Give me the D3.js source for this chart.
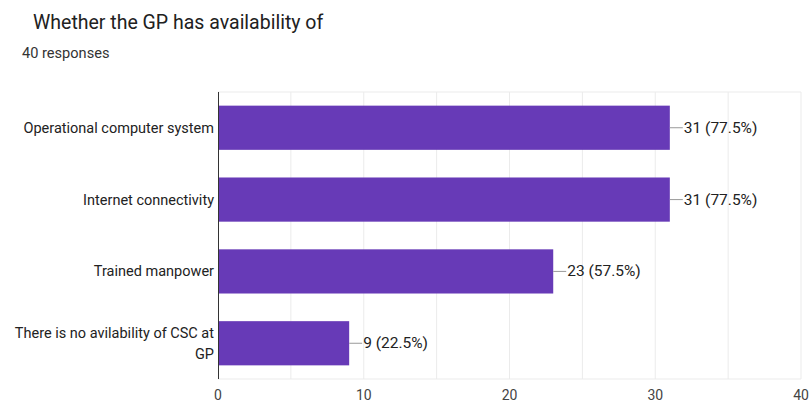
<!DOCTYPE html>
<html><head><meta charset="utf-8">
<script src="https://cdn.jsdelivr.net/npm/d3@7"></script>
<style>body{margin:0;background:#fff;font-family:Roboto,Arial,sans-serif}</style>
</head><body><svg id="c" width="809" height="405"></svg>
<script>
const categories = ["Operational computer system","Internet connectivity","Trained manpower","There is no avilability of CSC at GP"];
const catLines = [["Operational computer system"],["Internet connectivity"],["Trained manpower"],["There is no avilability of CSC at","GP"]];
const values = [31,31,23,9];
const percents = ["77.5%","77.5%","57.5%","22.5%"];
const xTicks = [0,10,20,30,40];
const gridTicks = [5,10,15,20,25,30,35,40];

const svg = d3.select("#c");
const m = {l:218,r:801,t:92,b:379};
const x = d3.scaleLinear().domain([0,40]).range([m.l,m.r]);
const y = d3.scaleBand().domain(categories).range([m.t,m.b]).paddingInner(0.385).paddingOuter(0.19);

svg.append("text").attr("x",33).attr("y",29).attr("font-size",19.5).attr("fill","#212121").text("Whether the GP has availability of");
svg.append("text").attr("x",22).attr("y",58).attr("font-size",14.6).attr("fill","#333").text("40 responses");

svg.selectAll(".g").data(gridTicks).join("line").attr("x1",d=>x(d)).attr("x2",d=>x(d)).attr("y1",m.t).attr("y2",m.b).attr("stroke","#ebebeb").attr("stroke-width",1);
svg.append("line").attr("x1",m.l).attr("x2",m.r).attr("y1",m.t).attr("y2",m.t).attr("stroke","#ebebeb");
svg.append("line").attr("x1",m.l).attr("x2",m.r).attr("y1",m.b).attr("y2",m.b).attr("stroke","#ebebeb");

svg.selectAll(".bar").data(categories).join("rect")
  .attr("x",x(0)).attr("y",d=>y(d)).attr("width",(d,i)=>x(values[i])-x(0)).attr("height",y.bandwidth())
  .attr("fill","#673ab7");

svg.append("line").attr("x1",m.l+0.5).attr("x2",m.l+0.5).attr("y1",m.t).attr("y2",m.b).attr("stroke","#333").attr("stroke-width",1);

categories.forEach((c,i)=>{
  const cy = y(c)+y.bandwidth()/2;
  const ex = x(values[i]);
  svg.append("line").attr("x1",ex).attr("x2",ex+13).attr("y1",cy).attr("y2",cy).attr("stroke","#999");
  svg.append("text").attr("x",ex+14).attr("y",cy+5).attr("font-size",15.5).attr("fill","#222").text(values[i]+" ("+percents[i]+")");
  const lines = catLines[i];
  const lh = 21;
  lines.forEach((t,j)=>{
    svg.append("text").attr("x",214).attr("y",cy+5+(j-(lines.length-1)/2)*lh).attr("text-anchor","end").attr("font-size",14.5).attr("fill","#222").text(t);
  });
});

svg.selectAll(".xt").data(xTicks).join("text").attr("x",d=>x(d)).attr("y",400).attr("text-anchor","middle").attr("font-size",14).attr("fill","#444").text(d=>d);
</script></body></html>
